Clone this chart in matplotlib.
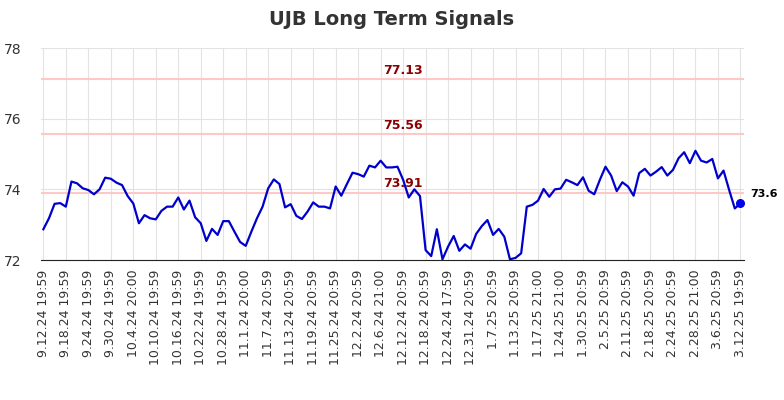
import matplotlib
matplotlib.use("Agg")
import matplotlib.pyplot as plt
import numpy as np

# values (one per trading day)
prices = [
    72.87, 73.18, 73.59, 73.61, 73.51, 74.22, 74.17, 74.03, 73.98, 73.86,
    74.00, 74.33, 74.30, 74.19, 74.12, 73.81, 73.60, 73.04, 73.27, 73.18,
    73.15, 73.39, 73.51, 73.51, 73.77, 73.43, 73.68, 73.21, 73.04, 72.54,
    72.88, 72.71, 73.10, 73.10, 72.80, 72.51, 72.40, 72.80, 73.18, 73.51,
    74.03, 74.28, 74.15, 73.49, 73.58, 73.25, 73.16, 73.37, 73.63, 73.51,
    73.51, 73.46, 74.08, 73.82, 74.15, 74.47, 74.43, 74.36, 74.67, 74.62,
    74.81, 74.62, 74.62, 74.64, 74.27, 73.77, 74.00, 73.81, 72.28, 72.11,
    72.87, 72.02, 72.38, 72.68, 72.26, 72.44, 72.32, 72.74, 72.96, 73.13,
    72.71, 72.88, 72.66, 72.02, 72.06, 72.19, 73.51, 73.56, 73.68, 74.01,
    73.79, 74.00, 74.02, 74.27, 74.20, 74.12, 74.34, 73.96, 73.86, 74.27,
    74.64, 74.39, 73.95, 74.20, 74.08, 73.82, 74.46, 74.58, 74.39, 74.50,
    74.63, 74.39, 74.55, 74.88, 75.05, 74.74, 75.09, 74.81, 74.76, 74.86,
    74.31, 74.53, 73.98, 73.46, 73.60,
]

tick_labels = [
    "9.12.24 19:59", "9.18.24 19:59", "9.24.24 19:59", "9.30.24 19:59",
    "10.4.24 20:00", "10.10.24 19:59", "10.16.24 19:59", "10.22.24 19:59",
    "10.28.24 19:59", "11.1.24 20:00", "11.7.24 20:59", "11.13.24 20:59",
    "11.19.24 20:59", "11.25.24 20:59", "12.2.24 20:59", "12.6.24 21:00",
    "12.12.24 20:59", "12.18.24 20:59", "12.24.24 17:59", "12.31.24 20:59",
    "1.7.25 20:59", "1.13.25 20:59", "1.17.25 21:00", "1.24.25 21:00",
    "1.30.25 20:59", "2.5.25 20:59", "2.11.25 20:59", "2.18.25 20:59",
    "2.24.25 20:59", "2.28.25 21:00", "3.6.25 20:59", "3.12.25 19:59",
]

signal_levels = [77.13, 75.56, 73.91]

x = np.arange(len(prices))
tick_pos = np.arange(0, len(prices), 4)

fig = plt.figure(figsize=(7.84, 4), dpi=100)
ax = fig.add_axes([0.0517, 0.35, 0.897, 0.53])

# grid
ax.set_xticks(tick_pos)
ax.set_xticklabels(tick_labels, rotation=90, fontsize=9, color="#333333")
ax.set_yticks([72, 74, 76, 78])
ax.tick_params(axis="y", labelsize=10, colors="#333333", length=0, pad=14)
ax.tick_params(axis="x", length=0, pad=7)
ax.grid(True, color="#e3e3e3", linewidth=0.8)
ax.set_axisbelow(True)

# signal lines
for lvl in signal_levels:
    ax.axhline(lvl, color="#ffc8c8", linewidth=1.5, zorder=1)
    ax.text(64, lvl + 0.06, f"{lvl:.2f}", color="#8b0000", fontsize=9,
            fontweight="bold", ha="center", va="bottom", zorder=3)

# price line
ax.plot(x, prices, color="#0000cc", linewidth=1.6, zorder=4)
ax.scatter([x[-1]], [prices[-1]], color="#0000ee", s=30, zorder=5)
ax.annotate(f"{prices[-1]:.1f}", (x[-1], prices[-1]), xytext=(7, 3),
            textcoords="offset points", fontsize=8, fontweight="bold",
            color="black", va="bottom", ha="left")

ax.set_xlim(-0.5, len(prices) - 0.4)
ax.set_ylim(72, 78)

for side in ["top", "right", "left"]:
    ax.spines[side].set_visible(False)
ax.spines["bottom"].set_color("#222222")

fig.suptitle("UJB Long Term Signals", fontsize=14, fontweight="bold",
             color="#333333", y=0.975)

fig.savefig("out.png", dpi=100)
